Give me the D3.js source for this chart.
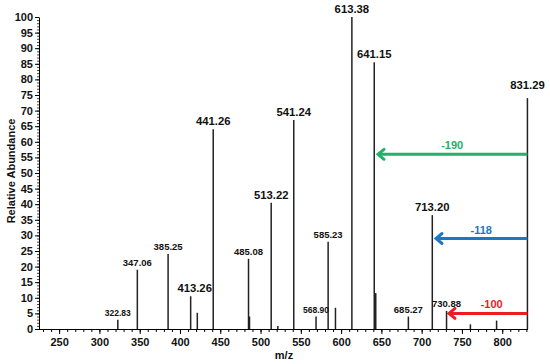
<!DOCTYPE html>
<html>
<head>
<meta charset="utf-8">
<script src="https://cdn.jsdelivr.net/npm/d3@7"></script>
<style>
  body { margin: 0; background: #fff; }
  svg text { font-family: Arial, "Liberation Sans", sans-serif; font-weight: bold; }
</style>
</head>
<body>
<div id="chart"></div>
<script>
// peaks (m/z, relative abundance)
const peakMz = [322.83, 347.06, 385.25, 413.26, 421.5, 441.26, 485.08, 486.3, 513.22, 521.5, 541.24, 568.90, 583.9, 593.0, 613.38, 641.15, 643.0, 683.5, 713.20, 730.88, 760.5, 793.0, 831.29];
const peakInt = [3, 19, 24, 10.5, 5.2, 64, 22.5, 4, 40.5, 1, 67, 4, 28, 6.8, 100, 85.5, 11.5, 4, 36.5, 5.8, 1.5, 2.7, 74];
const peakLabel = ["322.83", "347.06", "385.25", "413.26", "", "441.26", "485.08", "", "513.22", "", "541.24", "568.90", "585.23", "", "613.38", "641.15", "", "685.27", "713.20", "730.88", "", "", "831.29"];

// neutral loss arrows from the precursor
const arrowFrom = [831.29, 831.29, 831.29];
const arrowTo = [644.6, 716.6, 732.7];
const arrowLevel = [56, 29, 5];
const arrowText = ["-190", "-118", "-100"];
const arrowColor = ["#22b06a", "#1f78bd", "#ec1c24"];

const xTicks = [250, 300, 350, 400, 450, 500, 550, 600, 650, 700, 750, 800];
const yTicks = d3.range(0, 101, 5);

const width = 550, height = 364;
const margin = {top: 17, right: 22, bottom: 35, left: 39};

// small labels use a smaller font
const smallLabels = new Set(["322.83", "347.06", "385.25", "485.08", "568.90", "585.23", "685.27", "730.88"]);

const svg = d3.select("#chart").append("svg")
  .attr("width", width)
  .attr("height", height);

const x = d3.scaleLinear().domain([225, 832]).range([margin.left, width - margin.right]);
const y = d3.scaleLinear().domain([0, 100]).range([height - margin.bottom, margin.top]);

// x axis: minor ticks every 10, major ticks labelled
svg.append("g")
  .attr("transform", `translate(0,${y(0)})`)
  .call(d3.axisBottom(x).tickValues(d3.range(230, 831, 10)).tickSize(3).tickFormat(""))
  .call(g => g.select(".domain").remove());
svg.append("g")
  .attr("transform", `translate(0,${y(0)})`)
  .call(d3.axisBottom(x).tickValues(xTicks).tickSize(5).tickSizeOuter(0).tickPadding(4))
  .call(g => g.selectAll("text").attr("font-size", 11).attr("fill", "#111"))
  .call(g => g.select(".domain").attr("d", `M${margin.left - 2},0.5H${width - margin.right}`));

// y axis: minor tick every unit
svg.append("g")
  .attr("transform", `translate(${margin.left},0)`)
  .call(d3.axisLeft(y).tickValues(d3.range(0, 101, 1)).tickSize(2).tickFormat(""))
  .call(g => g.select(".domain").remove())
  .call(g => g.selectAll("line").attr("stroke", "#444"));
svg.append("g")
  .attr("transform", `translate(${margin.left},0)`)
  .call(d3.axisLeft(y).tickValues(yTicks).tickSize(4).tickSizeOuter(0).tickPadding(2))
  .call(g => g.selectAll("text").attr("font-size", 11).attr("fill", "#111"));

// peaks
svg.append("g")
  .attr("stroke", "#222")
  .attr("stroke-width", 1.5)
  .selectAll("line")
  .data(peakMz)
  .join("line")
  .attr("x1", d => x(d))
  .attr("x2", d => x(d))
  .attr("y1", y(0))
  .attr("y2", (d, i) => y(peakInt[i]));

svg.append("g")
  .attr("text-anchor", "middle")
  .attr("fill", "#111")
  .selectAll("text")
  .data(d3.range(peakMz.length).filter(i => peakLabel[i]))
  .join("text")
  .attr("x", i => x(peakMz[i]) + (peakLabel[i] === "413.26" ? 4 : 0))
  .attr("y", i => y(peakInt[i]) - (peakLabel[i] === "831.29" ? 9 : 4))
  .attr("font-size", i => peakLabel[i] === "322.83" || peakLabel[i] === "568.90" ? 8.5 : smallLabels.has(peakLabel[i]) ? 9.5 : 11.3)
  .text(i => peakLabel[i]);

// arrows
const arrows = svg.append("g")
  .selectAll("g")
  .data(d3.range(arrowText.length))
  .join("g")
  .attr("stroke", i => arrowColor[i])
  .attr("fill", i => arrowColor[i]);

arrows.append("line")
  .attr("x1", i => x(arrowFrom[i]))
  .attr("x2", i => x(arrowTo[i]) + 1)
  .attr("y1", i => y(arrowLevel[i]))
  .attr("y2", i => y(arrowLevel[i]))
  .attr("stroke-width", 3);

arrows.append("path")
  .attr("d", i => {
    const tx = x(arrowTo[i]) + 1, ty = y(arrowLevel[i]);
    return `M${tx + 6},${ty - 5}L${tx},${ty}L${tx + 6},${ty + 5}`;
  })
  .attr("fill", "none")
  .attr("stroke-width", 3)
  .attr("stroke-linecap", "round")
  .attr("stroke-linejoin", "miter");

arrows.append("text")
  .attr("stroke", "none")
  .attr("text-anchor", "middle")
  .attr("font-size", 11)
  .attr("x", i => (x(arrowFrom[i]) + x(arrowTo[i])) / 2 + (i === 2 ? 4 : 0))
  .attr("y", i => y(arrowLevel[i]) - 5)
  .text(i => arrowText[i]);

// axis titles
svg.append("text")
  .attr("transform", `translate(15,${(y(0) + y(100)) / 2 - 2}) rotate(-90)`)
  .attr("text-anchor", "middle")
  .attr("font-size", 11)
  .attr("fill", "#111")
  .text("Relative Abundance");

svg.append("text")
  .attr("x", 284)
  .attr("y", 359)
  .attr("text-anchor", "middle")
  .attr("font-size", 11)
  .attr("fill", "#111")
  .text("m/z");
</script>
</body>
</html>
